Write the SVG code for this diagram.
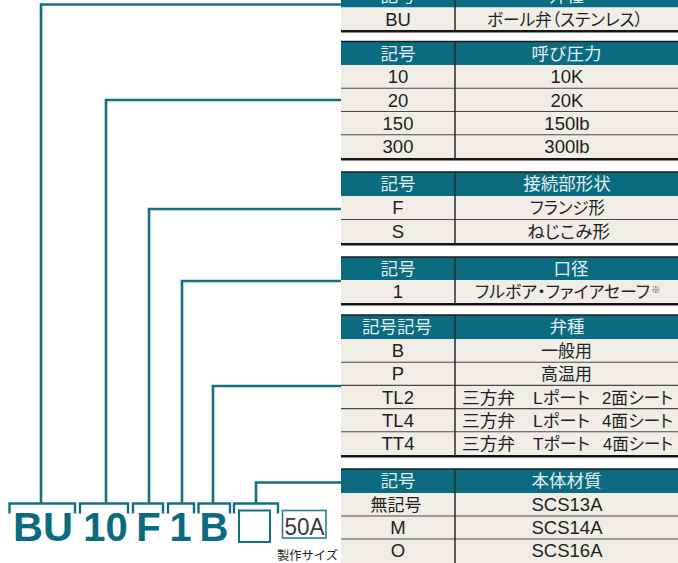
<svg xmlns="http://www.w3.org/2000/svg" width="678" height="563" viewBox="0 0 678 563">
<style>
.hd{fill:#0b6b80}
.rw{fill:#efede6}
.top{stroke:#1e1e1e;stroke-width:1.5;fill:none}
.bot{stroke:#151515;stroke-width:2.6;fill:none}
.sep{stroke:#4a4a4a;stroke-width:1.1;fill:none}
.div{stroke:#2a2a2a;stroke-width:1.5;fill:none}
.ht{font-family:"Noto Sans CJK JP",sans-serif;font-size:17.5px;fill:#e3eff1;text-anchor:middle}
.rt{font-family:"Liberation Sans","Noto Sans CJK JP",sans-serif;font-size:18.5px;fill:#231f20;text-anchor:middle}
.jt{font-family:"Noto Sans CJK JP",sans-serif;font-size:17px;fill:#231f20;text-anchor:middle;font-feature-settings:"palt"}
.js{font-family:"Liberation Sans","Noto Sans CJK JP",sans-serif;font-size:17px;fill:#231f20;font-feature-settings:"palt"}
.cn{stroke:#14707f;stroke-width:2.6;fill:none}
.br{stroke:#14707f;stroke-width:2.4;fill:none}
.big{font-family:"Liberation Sans",Arial,sans-serif;font-weight:bold;font-size:40px;fill:#0b6b80;text-anchor:middle}
</style>

<g id="connectors">
<polyline class="cn" points="41,503 41,4.5 341,4.5"/>
<polyline class="cn" points="106,503 106,100 341,100"/>
<polyline class="cn" points="149,503 149,209 341,209"/>
<polyline class="cn" points="182,503 182,281 341,281"/>
<polyline class="cn" points="213,503 213,386 341,386"/>
<polyline class="cn" points="256,503 256,482.5 341,482.5"/>
</g>

<g id="code">
<path class="br" d="M9.5,513.5 V503.5 H75 V513.5"/>
<path class="br" d="M80,513.5 V503.5 H128 V513.5"/>
<path class="br" d="M133,513.5 V503.5 H163 V513.5"/>
<path class="br" d="M168,513.5 V503.5 H194 V513.5"/>
<path class="br" d="M198.5,513.5 V503.5 H230 V513.5"/>
<path class="br" d="M234,513.5 V503.5 H278 V513.5"/>
<text class="big" x="43" y="541" textLength="60" lengthAdjust="spacingAndGlyphs">BU</text>
<text class="big" x="105.5" y="541">10</text>
<text class="big" x="148.5" y="541">F</text>
<text class="big" x="180.5" y="541">1</text>
<text class="big" x="214" y="541">B</text>
<rect x="239" y="510.5" width="31" height="31.5" fill="#fff" stroke="#14707f" stroke-width="2"/>
<rect x="282.5" y="510.5" width="43.5" height="27.5" fill="#fff" stroke="#2a8090" stroke-width="1.6"/>
<text x="304.5" y="535" font-family="Liberation Sans,Arial,sans-serif" font-size="24" fill="#3a3a3a" text-anchor="middle" textLength="40" lengthAdjust="spacingAndGlyphs">50A</text>
<text x="277" y="560" font-family="Noto Sans CJK JP,sans-serif" font-size="12.5" fill="#231f20" textLength="61" lengthAdjust="spacingAndGlyphs">製作サイズ</text>
</g>

<g id="table-type">
<rect class="hd" x="341" y="-17" width="337" height="24.5"/>
<rect class="rw" x="341" y="7.5" width="337" height="23"/>
<line class="div" x1="455" y1="-17" x2="455" y2="30.5"/>
<line class="bot" x1="341" y1="31.2" x2="678" y2="31.2"/>
<text class="ht" x="398" y="1.6">記号</text>
<text class="ht" x="566.5" y="1.6">弁種</text>
<text class="rt" x="398" y="25.6">BU</text>
<text class="jt" x="565" y="25.5" textLength="156" lengthAdjust="spacingAndGlyphs">ボール弁（ステンレス）</text>
</g>

<g id="table-pressure">
<rect class="hd" x="341" y="41.5" width="337" height="23.5"/>
<rect class="rw" x="341" y="65" width="337" height="93"/>
<line class="top" x1="341" y1="41.5" x2="678" y2="41.5"/>
<line class="sep" x1="341" y1="88.25" x2="678" y2="88.25"/>
<line class="sep" x1="341" y1="111.5" x2="678" y2="111.5"/>
<line class="sep" x1="341" y1="134.75" x2="678" y2="134.75"/>
<line class="div" x1="455" y1="41.5" x2="455" y2="158"/>
<line class="bot" x1="341" y1="159.2" x2="678" y2="159.2"/>
<text class="ht" x="398" y="59.5">記号</text>
<text class="ht" x="566.5" y="59.5">呼び圧力</text>
<text class="rt" x="398" y="83.2">10</text><text class="rt" x="567" y="83.2">10K</text>
<text class="rt" x="398" y="106.5">20</text><text class="rt" x="567" y="106.5">20K</text>
<text class="rt" x="398" y="129.7">150</text><text class="rt" x="567" y="129.7">150lb</text>
<text class="rt" x="398" y="153">300</text><text class="rt" x="567" y="153">300lb</text>
</g>

<g id="table-connection">
<rect class="hd" x="341" y="172" width="337" height="24"/>
<rect class="rw" x="341" y="196" width="337" height="47"/>
<line class="top" x1="341" y1="172" x2="678" y2="172"/>
<line class="sep" x1="341" y1="219.5" x2="678" y2="219.5"/>
<line class="div" x1="455" y1="172" x2="455" y2="243"/>
<line class="bot" x1="341" y1="244.2" x2="678" y2="244.2"/>
<text class="ht" x="398" y="190.2">記号</text>
<text class="ht" x="567" y="190.2">接続部形状</text>
<text class="rt" x="398" y="214.3">F</text>
<text class="jt" x="567.5" y="214.2" textLength="75" lengthAdjust="spacingAndGlyphs">フランジ形</text>
<text class="rt" x="398" y="237.8">S</text>
<text class="jt" x="568.5" y="237.7" textLength="83" lengthAdjust="spacingAndGlyphs">ねじこみ形</text>
</g>

<g id="table-bore">
<rect class="hd" x="341" y="257" width="337" height="23"/>
<rect class="rw" x="341" y="280" width="337" height="23"/>
<line class="top" x1="341" y1="257" x2="678" y2="257"/>
<line class="div" x1="455" y1="257" x2="455" y2="303"/>
<line class="bot" x1="341" y1="304.2" x2="678" y2="304.2"/>
<text class="ht" x="571" y="274.7">口径</text>
<text class="ht" x="398" y="274.7">記号</text>
<text class="rt" x="398" y="298.1">1</text>
<text class="jt" x="562.5" y="298" textLength="175" lengthAdjust="spacingAndGlyphs">フルボア・ファイアセーフ</text>
<text x="651" y="293" font-family="Noto Sans CJK JP,sans-serif" font-size="9.5" fill="#555">※</text>
</g>

<g id="table-valve">
<rect class="hd" x="341" y="315" width="337" height="24"/>
<rect class="rw" x="341" y="339" width="337" height="116"/>
<line class="top" x1="341" y1="315" x2="678" y2="315"/>
<line class="sep" x1="341" y1="362.2" x2="678" y2="362.2"/>
<line class="sep" x1="341" y1="385.4" x2="678" y2="385.4"/>
<line class="sep" x1="341" y1="408.6" x2="678" y2="408.6"/>
<line class="sep" x1="341" y1="431.8" x2="678" y2="431.8"/>
<line class="div" x1="455" y1="315" x2="455" y2="455"/>
<line class="bot" x1="341" y1="456.2" x2="678" y2="456.2"/>
<text class="ht" x="397" y="333.2">記号記号</text>
<text class="ht" x="567" y="333.2">弁種</text>
<text class="rt" x="398" y="357.2">B</text><text class="jt" x="566.5" y="357.1">一般用</text>
<text class="rt" x="398" y="380.4">P</text><text class="jt" x="566.5" y="380.3">高温用</text>
<text class="rt" x="398" y="403.6">TL2</text>
<text class="js" x="462" y="403.5" textLength="53" lengthAdjust="spacingAndGlyphs">三方弁</text>
<text class="js" x="533" y="403.5" textLength="57" lengthAdjust="spacingAndGlyphs">Lポート</text>
<text class="js" x="602" y="403.5" textLength="71" lengthAdjust="spacingAndGlyphs">2面シート</text>
<text class="rt" x="398" y="426.8">TL4</text>
<text class="js" x="462" y="426.7" textLength="53" lengthAdjust="spacingAndGlyphs">三方弁</text>
<text class="js" x="533" y="426.7" textLength="57" lengthAdjust="spacingAndGlyphs">Lポート</text>
<text class="js" x="602" y="426.7" textLength="71" lengthAdjust="spacingAndGlyphs">4面シート</text>
<text class="rt" x="398" y="450">TT4</text>
<text class="js" x="462" y="449.9" textLength="53" lengthAdjust="spacingAndGlyphs">三方弁</text>
<text class="js" x="533" y="449.9" textLength="57" lengthAdjust="spacingAndGlyphs">Tポート</text>
<text class="js" x="603" y="449.9" textLength="70" lengthAdjust="spacingAndGlyphs">4面シート</text>
</g>

<g id="table-material">
<rect class="hd" x="341" y="469" width="337" height="24"/>
<rect class="rw" x="341" y="493" width="337" height="70"/>
<line class="top" x1="341" y1="469" x2="678" y2="469"/>
<line class="sep" x1="341" y1="516" x2="678" y2="516"/>
<line class="sep" x1="341" y1="539" x2="678" y2="539"/>
<line class="div" x1="455" y1="469" x2="455" y2="563"/>
<text class="ht" x="398" y="487.2">記号</text>
<text class="ht" x="566.5" y="487.2">本体材質</text>
<text class="jt" x="396" y="511">無記号</text><text class="rt" x="567" y="511.1">SCS13A</text>
<text class="rt" x="398" y="534.1">M</text><text class="rt" x="567" y="534.1">SCS14A</text>
<text class="rt" x="398" y="557.1">O</text><text class="rt" x="567" y="557.1">SCS16A</text>
</g>
</svg>
